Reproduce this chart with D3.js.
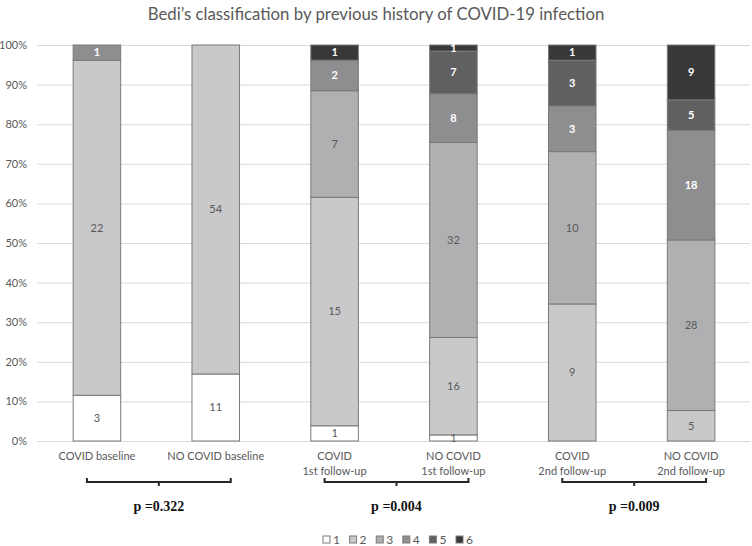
<!DOCTYPE html>
<html>
<head>
<meta charset="utf-8">
<script src="https://cdn.jsdelivr.net/npm/d3@7"></script>
<style>
  body { margin: 0; background: #fff; }
  text { font-family: Lato, "Open Sans", sans-serif; }
</style>
</head>
<body>
<svg id="chart" width="752" height="546"></svg>
<script>
// groups along the x axis
var groups = ["COVID baseline", "NO COVID baseline", "COVID 1st", "NO COVID 1st", "COVID 2nd", "NO COVID 2nd"];
var groupLabels = [
    ["COVID baseline"], ["NO COVID baseline"],
    ["COVID", "1st follow-up"], ["NO COVID", "1st follow-up"],
    ["COVID", "2nd follow-up"], ["NO COVID", "2nd follow-up"]
];
// Bedi's classes
var classes = ["1", "2", "3", "4", "5", "6"];
// counts per class, one value per group
var class1 = [3, 11, 1, 1, 0, 0];
var class2 = [22, 54, 15, 16, 9, 5];
var class3 = [0, 0, 7, 32, 10, 28];
var class4 = [1, 0, 2, 8, 3, 18];
var class5 = [0, 0, 0, 7, 3, 5];
var class6 = [0, 0, 1, 1, 1, 9];
var yTicks = [0, 0.1, 0.2, 0.3, 0.4, 0.5, 0.6, 0.7, 0.8, 0.9, 1];
// pairs compared and their p values
var pairs = [[0, 1], [2, 3], [4, 5]];
var pValues = ["p =0.322", "p =0.004", "p =0.009"];

var colors = ["#ffffff", "#c9c9cb", "#b0b0b2", "#8e8e90", "#606062", "#383838"];
var labelColors = ["#595959", "#595959", "#595959", "#ffffff", "#ffffff", "#ffffff"];

var series = [class1, class2, class3, class4, class5, class6];
var table = groups.map(function(g, i) {
    var row = { group: g };
    classes.forEach(function(c, k) { row[c] = series[k][i]; });
    return row;
});

var svg = d3.select("#chart");

var x = d3.scaleBand()
    .domain(groups)
    .range([37.5, 750.5])
    .paddingInner(0.6)
    .paddingOuter(0.3);

var y = d3.scaleLinear()
    .domain([0, 1])
    .range([441, 45]);

var stack = d3.stack()
    .keys(classes)
    .offset(d3.stackOffsetExpand);
var stacked = stack(table);

// title
svg.append("text")
    .attr("x", 376)
    .attr("y", 20)
    .attr("text-anchor", "middle")
    .attr("fill", "#595959")
    .attr("font-size", 16.8)
    .text("Bedi\u2019s classification by previous history of COVID-19 infection");

// gridlines and y labels
var yAxis = svg.append("g")
    .attr("transform", "translate(37,0)")
    .call(d3.axisLeft(y)
        .tickValues(yTicks)
        .tickSize(-713)
        .tickPadding(10)
        .tickFormat(d3.format(".0%")));
yAxis.select(".domain").remove();
yAxis.selectAll("line").attr("stroke", "#d9d9d9");
yAxis.selectAll("text")
    .attr("fill", "#595959")
    .attr("font-size", 11);

// bars
var layers = svg.append("g")
    .selectAll("g")
    .data(stacked)
    .enter().append("g")
        .attr("fill", function(d, i) { return colors[i]; });

layers.selectAll("rect")
    .data(function(d) { return d.filter(function(s) { return s[1] > s[0]; }); })
    .enter().append("rect")
        .attr("x", function(d) { return x(d.data.group); })
        .attr("width", x.bandwidth())
        .attr("y", function(d) { return y(d[1]); })
        .attr("height", function(d) { return y(d[0]) - y(d[1]); })
        .attr("stroke", "#7a7a7a")
        .attr("stroke-width", 1);

// value labels
stacked.forEach(function(layer, k) {
    svg.append("g")
        .selectAll("text")
        .data(layer.filter(function(s) { return s[1] > s[0]; }))
        .enter().append("text")
            .attr("x", function(d) { return x(d.data.group) + x.bandwidth() / 2; })
            .attr("y", function(d) { return (y(d[0]) + y(d[1])) / 2; })
            .attr("dy", "0.35em")
            .attr("text-anchor", "middle")
            .attr("font-size", 11)
            .attr("font-weight", k >= 3 ? "bold" : "normal")
            .attr("fill", labelColors[k])
            .text(function(d) { return d.data[layer.key]; });
});

// x labels
var xl = svg.append("g")
    .selectAll("text")
    .data(groups)
    .enter().append("text")
        .attr("x", function(d) { return x(d) + x.bandwidth() / 2; })
        .attr("y", 460)
        .attr("text-anchor", "middle")
        .attr("fill", "#595959")
        .attr("font-size", 11);
xl.selectAll("tspan")
    .data(function(d, i) { return groupLabels[i]; })
    .enter().append("tspan")
        .attr("x", function() { return d3.select(this.parentNode).attr("x"); })
        .attr("dy", function(d, i) { return i ? 15 : 0; })
        .text(function(d) { return d; });

// brackets and p values
pairs.forEach(function(p, i) {
    var x0 = x(groups[p[0]]) + x.bandwidth() / 2 - 10;
    var x1 = x(groups[p[1]]) + x.bandwidth() / 2 + 15;
    var xm = (x0 + x1) / 2;
    var by = 482;
    svg.append("path")
        .attr("d", "M" + x0 + "," + (by - 4) + "V" + by + "H" + x1 + "V" + (by - 4) +
            "M" + xm + "," + by + "V" + (by + 4))
        .attr("fill", "none")
        .attr("stroke", "#262626")
        .attr("stroke-width", 2);
    svg.append("text")
        .attr("x", xm)
        .attr("y", 511)
        .attr("text-anchor", "middle")
        .style("font-family", "'Liberation Serif', 'Times New Roman', serif")
        .attr("font-weight", "bold")
        .attr("font-size", 14)
        .attr("fill", "#111")
        .text(pValues[i]);
});

// legend
var legend = svg.append("g")
    .selectAll("g")
    .data(classes)
    .enter().append("g")
        .attr("transform", function(d, i) { return "translate(" + (323 + i * 26.6) + ",536)"; });
legend.append("rect")
    .attr("width", 7)
    .attr("height", 7)
    .attr("fill", function(d, i) { return colors[i]; })
    .attr("stroke", "#7a7a7a");
legend.append("text")
    .attr("x", 10)
    .attr("y", 7.5)
    .attr("fill", "#595959")
    .attr("font-size", 12)
    .text(function(d) { return d; });
</script>
</body>
</html>
